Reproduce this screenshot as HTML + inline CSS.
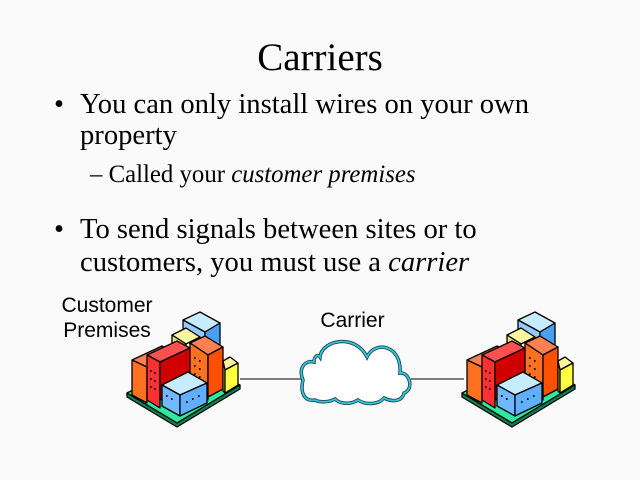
<!DOCTYPE html>
<html><head><meta charset="utf-8"><style>
html,body{margin:0;padding:0;background:#fafafa;}
body{width:640px;height:480px;position:relative;overflow:hidden;font-family:"Liberation Serif",serif;color:#000;}
.t{position:absolute;white-space:nowrap;}
.s{font-family:"Liberation Sans",sans-serif;font-size:21px;text-align:center;}
</style></head><body>
<div class="t" style="left:0;width:640px;text-align:center;top:34px;font-size:39px;line-height:48px;">Carriers</div>
<div class="t" style="left:54px;top:88px;font-size:28.6px;line-height:33px;">•</div>
<div class="t" style="left:80px;top:88px;font-size:28.6px;line-height:33px;">You can only install wires on your own</div>
<div class="t" style="left:80px;top:119px;font-size:28.6px;line-height:33px;">property</div>
<div class="t" style="left:90px;top:160px;font-size:24.8px;line-height:30px;">– Called your <i>customer premises</i></div>
<div class="t" style="left:54px;top:213px;font-size:28.6px;line-height:33px;">•</div>
<div class="t" style="left:80px;top:213px;font-size:28.6px;line-height:33px;">To send signals between sites or to</div>
<div class="t" style="left:80px;top:246px;font-size:28.6px;line-height:33px;">customers, you must use a <i>carrier</i></div>
<div class="t s" style="left:47px;width:120px;top:293px;line-height:25px;">Customer<br>Premises</div>
<div class="t s" style="left:300px;width:105px;top:309px;line-height:24px;">Carrier</div>
<svg width="640" height="480" style="position:absolute;left:0;top:0" xmlns="http://www.w3.org/2000/svg">
<defs>
<g id="bld" stroke="#000" stroke-width="1.3" stroke-linejoin="round">
<polygon points="7,88 70,56 120,80 57,118" fill="#30e8a0"/>
<polygon points="7,88 7,92 57,122 120,84 120,80 57,118" fill="#108050"/>
<polygon points="63,15 80,7 100,18 85,27" fill="#c8ecff"/>
<polygon points="63,15 85,27 85,45 63,35" fill="#90ccff"/>
<polygon points="85,27 100,18 100,40 85,48" fill="#4aa0f0"/>
<polygon points="52,30 66,23 80,32 66,39" fill="#fff4a0"/>
<polygon points="52,30 66,39 66,48 52,40" fill="#f0e070"/>
<polygon points="12,55 42,41 55,48 27,62" fill="#ff8050"/>
<polygon points="12,55 27,62 27,98 12,90" fill="#ff7020"/>
<polygon points="27,50 57,36 70,43 40,57" fill="#ff5050"/>
<polygon points="27,50 40,57 40,103 27,95" fill="#ff3030"/>
<polygon points="40,57 70,43 70,80 40,95" fill="#d00000"/>
<polygon points="70,38 85,31 103,42 88,50" fill="#ff8050"/>
<polygon points="70,38 88,50 88,95 70,85" fill="#ff7020"/>
<polygon points="88,50 103,42 103,84 88,92" fill="#ff5000"/>
<polygon points="103,56 110,52 118,58 105,65" fill="#fff4a0"/>
<polygon points="103,56 105,65 105,88 103,86" fill="#f0e060"/>
<polygon points="105,65 118,58 118,80 105,88" fill="#ffff40"/>
<polygon points="42,80 68,67 87,78 60,90" fill="#c8ecff"/>
<polygon points="42,80 60,90 60,111 42,101" fill="#70b8ff"/>
<polygon points="60,90 87,78 87,98 60,111" fill="#60b0ff"/>
<g stroke="none" fill="#000">
<rect x="30" y="65" width="1.5" height="2"/><rect x="34" y="67" width="1.5" height="2"/><rect x="30" y="73" width="1.5" height="2"/><rect x="34" y="75" width="1.5" height="2"/><rect x="30" y="81" width="1.5" height="2"/><rect x="34" y="83" width="1.5" height="2"/>
<rect x="74" y="52" width="1.5" height="2"/><rect x="79" y="55" width="1.5" height="2"/><rect x="74" y="60" width="1.5" height="2"/><rect x="79" y="63" width="1.5" height="2"/><rect x="74" y="68" width="1.5" height="2"/><rect x="79" y="71" width="1.5" height="2"/>
<rect x="46" y="90" width="1.5" height="2"/><rect x="51" y="93" width="1.5" height="2"/><rect x="66" y="96" width="1.5" height="2"/><rect x="72" y="93" width="1.5" height="2"/><rect x="78" y="90" width="1.5" height="2"/>
</g>
</g>
</defs>
<line x1="240" y1="379" x2="302" y2="379" stroke="#000" stroke-width="1"/>
<line x1="411" y1="379" x2="464" y2="379" stroke="#000" stroke-width="1"/>
<use href="#bld" x="120" y="305"/>
<use href="#bld" x="455" y="305"/>
<path d="M303,380 C298,368 305,360 314,362 C314,356 318,354 320,357 C322,340 355,333 367,357 C375,340 402,345 400,373 C410,372 414,390 404,393 C402,402 392,402 384,398 C378,405 365,405 358,400 C350,405 340,404 335,399 C328,403 318,402 315,400 C304,402 300,392 303,380 Z" fill="#fff" stroke="#204050" stroke-width="3.5"/>
<path d="M303,380 C298,368 305,360 314,362 C314,356 318,354 320,357 C322,340 355,333 367,357 C375,340 402,345 400,373 C410,372 414,390 404,393 C402,402 392,402 384,398 C378,405 365,405 358,400 C350,405 340,404 335,399 C328,403 318,402 315,400 C304,402 300,392 303,380 Z" fill="none" stroke="#30c8d8" stroke-width="1.8"/>
</svg>
</body></html>
